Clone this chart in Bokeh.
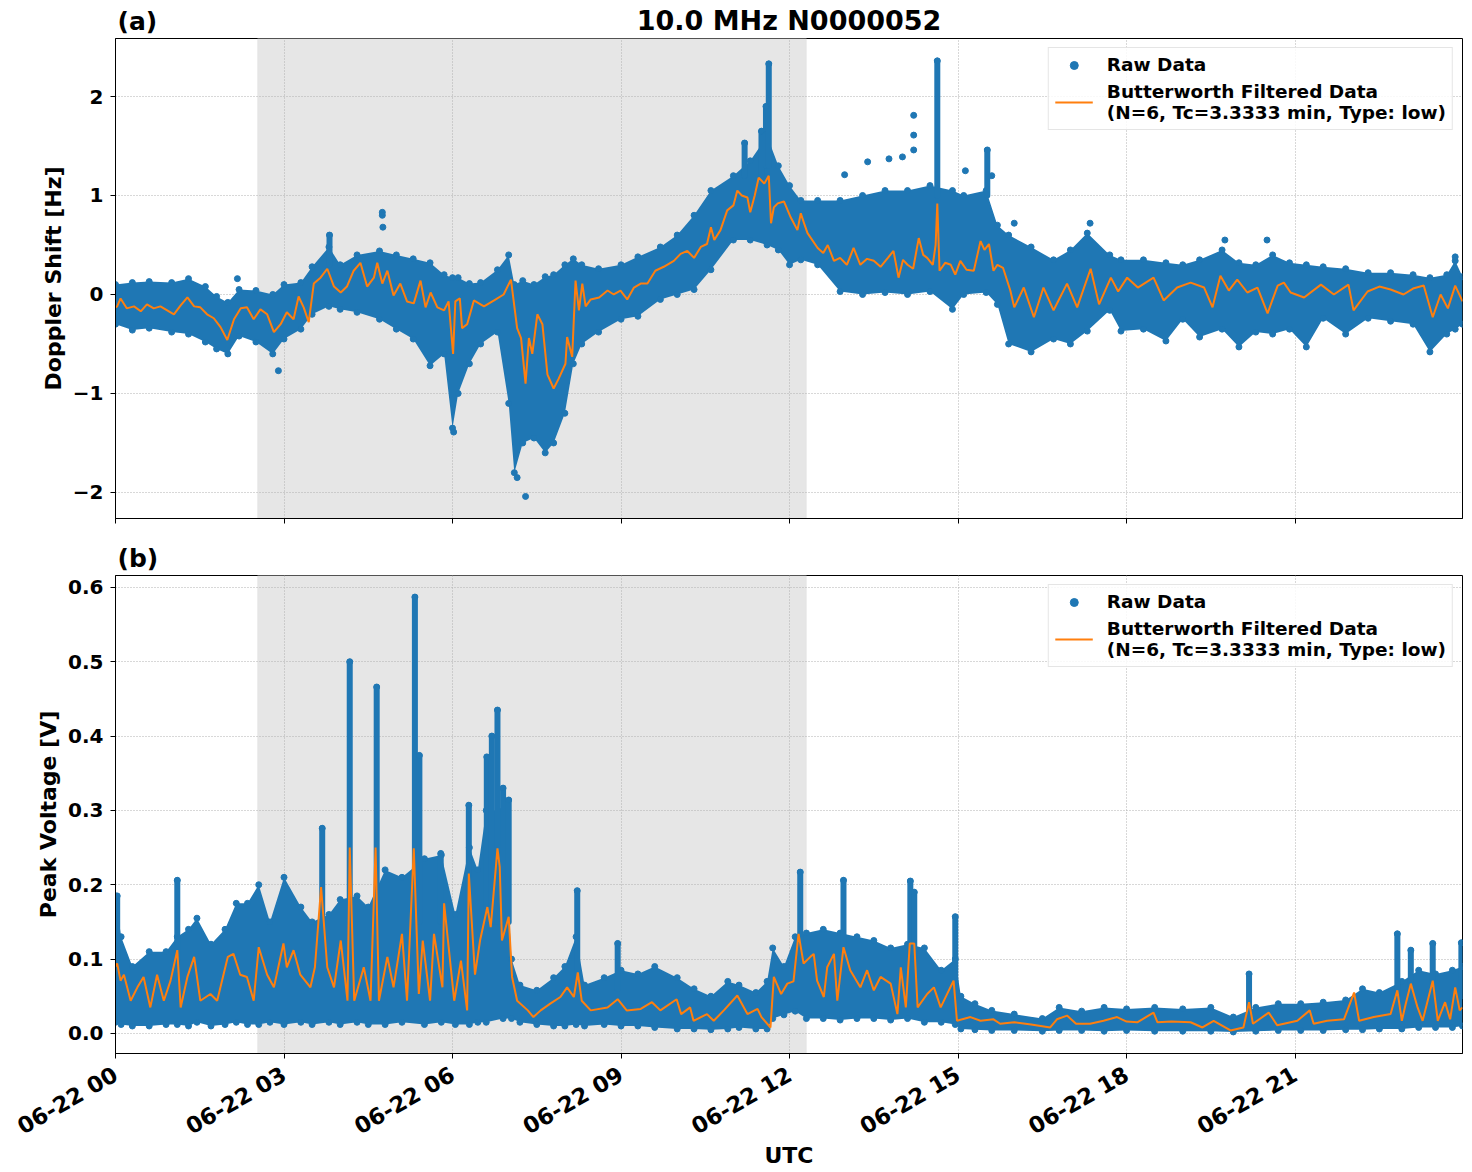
from bokeh.plotting import figure
from bokeh.layouts import column
from bokeh.models import Range1d, FixedTicker, BoxAnnotation, Legend, LegendItem
from bokeh.core.properties import value
from bokeh.embed import file_html
from bokeh.resources import INLINE

BLUE = "#1f77b4"
ORANGE = "#ff7f0e"
FONT = "DejaVu Sans"

# ---------------- data (time in hours since 06-22 00 UTC) ----------------
hour_ticks = [0, 3, 6, 9, 12, 15, 18, 21]
hour_labels = ["06-22 00", "06-22 03", "06-22 06", "06-22 09",
               "06-22 12", "06-22 15", "06-22 18", "06-22 21"]

doppler_ticks = [-2, -1, 0, 1, 2]
doppler_tick_labels = ["\u22122", "\u22121", "0", "1", "2"]
voltage_ticks = [0.0, 0.1, 0.2, 0.3, 0.4, 0.5, 0.6]
voltage_tick_labels = ["0.0", "0.1", "0.2", "0.3", "0.4", "0.5", "0.6"]

shade_start, shade_end = 2.53, 12.30

# Doppler shift: Butterworth filtered trace (hour, Hz)
doppler_filtered = [
    (0.0, -0.13), (0.03, -0.12), (0.09, -0.04), (0.2, -0.14), (0.33, -0.12), (0.45, -0.17),
    (0.56, -0.10), (0.68, -0.14), (0.8, -0.12), (0.92, -0.16), (1.04, -0.20), (1.16, -0.11),
    (1.28, -0.03), (1.4, -0.12), (1.51, -0.13), (1.63, -0.20), (1.75, -0.24), (1.87, -0.33),
    (1.99, -0.46), (2.11, -0.25), (2.23, -0.14), (2.34, -0.13), (2.46, -0.25), (2.58, -0.15),
    (2.7, -0.20), (2.82, -0.38), (2.94, -0.30), (3.05, -0.18), (3.17, -0.25), (3.26, -0.02),
    (3.35, -0.13), (3.44, -0.28), (3.53, 0.11), (3.65, 0.17), (3.77, 0.26), (3.89, 0.08),
    (4.01, 0.02), (4.12, 0.08), (4.24, 0.24), (4.36, 0.32), (4.48, 0.08), (4.6, 0.17),
    (4.66, 0.32), (4.75, 0.11), (4.84, 0.24), (4.95, -0.01), (5.07, 0.11), (5.19, -0.07),
    (5.31, -0.09), (5.43, 0.14), (5.52, -0.13), (5.61, 0.02), (5.73, -0.13), (5.85, -0.16),
    (5.93, -0.07), (6.01, -0.60), (6.05, -0.07), (6.13, -0.04), (6.17, -0.34), (6.26, -0.30),
    (6.38, -0.06), (6.56, -0.12), (6.74, -0.06), (6.91, 0.0), (7.04, 0.15), (7.15, -0.34),
    (7.22, -0.44), (7.3, -0.90), (7.36, -0.44), (7.42, -0.60), (7.51, -0.20), (7.6, -0.30),
    (7.69, -0.81), (7.8, -0.95), (7.89, -0.85), (8.01, -0.70), (8.04, -0.43), (8.13, -0.63),
    (8.19, 0.14), (8.25, -0.16), (8.31, 0.11), (8.37, -0.12), (8.46, -0.05), (8.61, -0.03),
    (8.76, 0.04), (8.87, 0.0), (8.99, 0.04), (9.11, -0.05), (9.23, 0.07), (9.35, 0.11),
    (9.47, 0.11), (9.61, 0.24), (9.76, 0.28), (9.94, 0.34), (10.06, 0.41), (10.18, 0.44),
    (10.3, 0.37), (10.42, 0.48), (10.53, 0.51), (10.6, 0.68), (10.66, 0.55), (10.77, 0.65),
    (10.89, 0.85), (11.0, 0.90), (11.07, 1.05), (11.15, 1.00), (11.25, 0.98), (11.3, 0.83),
    (11.38, 1.00), (11.45, 1.18), (11.55, 1.12), (11.63, 1.20), (11.67, 0.72), (11.72, 0.88),
    (11.79, 0.92), (11.9, 0.94), (12.02, 0.78), (12.14, 0.65), (12.2, 0.82), (12.27, 0.70),
    (12.32, 0.62), (12.5, 0.47), (12.6, 0.42), (12.68, 0.50), (12.79, 0.34), (12.9, 0.37),
    (13.02, 0.30), (13.14, 0.47), (13.26, 0.30), (13.38, 0.36), (13.5, 0.34), (13.62, 0.28),
    (13.75, 0.37), (13.85, 0.44), (13.94, 0.17), (14.02, 0.35), (14.1, 0.30), (14.2, 0.26),
    (14.3, 0.57), (14.38, 0.40), (14.45, 0.37), (14.55, 0.30), (14.6, 0.50), (14.63, 0.92),
    (14.67, 0.24), (14.77, 0.32), (14.87, 0.30), (14.95, 0.20), (15.04, 0.34), (15.15, 0.25),
    (15.28, 0.24), (15.4, 0.54), (15.47, 0.45), (15.55, 0.51), (15.63, 0.24), (15.7, 0.30),
    (15.8, 0.27), (15.93, 0.04), (16.0, -0.13), (16.17, 0.07), (16.35, -0.23), (16.52, 0.07),
    (16.7, -0.16), (16.94, 0.11), (17.12, -0.13), (17.36, 0.26), (17.51, -0.10), (17.72, 0.17),
    (17.85, 0.03), (18.01, 0.17), (18.2, 0.07), (18.48, 0.17), (18.66, -0.06), (18.9, 0.07),
    (19.14, 0.12), (19.38, 0.07), (19.53, -0.13), (19.67, 0.19), (19.82, 0.04), (19.97, 0.15),
    (20.15, 0.02), (20.33, 0.07), (20.51, -0.19), (20.69, 0.09), (20.8, 0.12), (20.92, 0.02),
    (21.16, -0.03), (21.46, 0.10), (21.69, 0.0), (21.95, 0.10), (22.04, -0.16), (22.29, 0.03),
    (22.5, 0.08), (22.7, 0.05), (22.93, 0.0), (23.1, 0.06), (23.29, 0.09), (23.45, -0.23),
    (23.59, 0.0), (23.72, -0.14), (23.85, 0.09), (23.98, -0.07),
]

# Doppler shift: spread of the raw samples (hour, lowest Hz, highest Hz)
doppler_spread = [
    (0.0, -0.30, 0.10), (0.3, -0.36, 0.12), (0.6, -0.34, 0.13), (1.0, -0.38, 0.12),
    (1.3, -0.40, 0.16), (1.6, -0.48, 0.08), (1.8, -0.55, -0.02), (2.0, -0.60, -0.08),
    (2.2, -0.42, 0.05), (2.5, -0.48, 0.04), (2.8, -0.60, 0.0), (3.0, -0.45, 0.10),
    (3.3, -0.35, 0.12), (3.5, -0.20, 0.28), (3.8, -0.12, 0.48), (4.0, -0.15, 0.30),
    (4.3, -0.18, 0.40), (4.7, -0.25, 0.44), (5.0, -0.35, 0.40), (5.3, -0.45, 0.36),
    (5.6, -0.72, 0.32), (5.85, -0.60, 0.20), (6.0, -1.35, 0.17), (6.1, -1.00, 0.17),
    (6.3, -0.70, 0.11), (6.5, -0.50, 0.12), (6.8, -0.38, 0.25), (7.0, -1.10, 0.40),
    (7.1, -1.80, 0.10), (7.25, -1.50, 0.14), (7.45, -1.45, 0.10), (7.65, -1.60, 0.18),
    (7.8, -1.50, 0.20), (8.0, -1.20, 0.30), (8.15, -0.70, 0.36), (8.3, -0.50, 0.30),
    (8.6, -0.38, 0.26), (9.0, -0.25, 0.30), (9.3, -0.22, 0.38), (9.7, -0.05, 0.48),
    (10.0, 0.0, 0.60), (10.3, 0.05, 0.80), (10.6, 0.25, 1.05), (11.0, 0.55, 1.20),
    (11.3, 0.55, 1.35), (11.6, 0.50, 1.60), (11.8, 0.45, 1.30), (12.0, 0.30, 1.10),
    (12.2, 0.35, 0.95), (12.5, 0.30, 0.95), (12.9, 0.03, 0.95), (13.3, 0.0, 1.00),
    (13.7, 0.02, 1.05), (14.1, 0.0, 1.05), (14.5, 0.03, 1.10), (14.9, -0.15, 1.05),
    (15.1, 0.0, 1.00), (15.5, 0.02, 1.05), (15.7, -0.10, 0.70), (15.9, -0.50, 0.60),
    (16.3, -0.58, 0.48), (16.7, -0.45, 0.35), (17.0, -0.50, 0.45), (17.3, -0.37, 0.62),
    (17.7, -0.16, 0.40), (17.9, -0.37, 0.35), (18.3, -0.35, 0.35), (18.7, -0.47, 0.32),
    (19.0, -0.25, 0.30), (19.3, -0.43, 0.35), (19.7, -0.35, 0.45), (20.0, -0.53, 0.32),
    (20.3, -0.38, 0.30), (20.6, -0.40, 0.40), (20.9, -0.35, 0.32), (21.2, -0.53, 0.30),
    (21.5, -0.24, 0.28), (21.9, -0.40, 0.26), (22.3, -0.24, 0.22), (22.7, -0.27, 0.22),
    (23.1, -0.30, 0.20), (23.4, -0.58, 0.17), (23.7, -0.40, 0.20), (23.85, -0.35, 0.34),
    (23.98, -0.30, 0.18),
]

# Doppler shift: narrow bursts of raw samples (hour, lowest Hz, highest Hz)
doppler_bursts = [
    (3.81, 0.30, 0.60), (11.2, 1.20, 1.53), (11.5, 1.20, 1.65), (11.58, 1.30, 1.90),
    (11.63, 1.30, 2.33), (14.63, 1.00, 2.36), (15.52, 1.00, 1.46),
]

# Doppler shift: isolated raw samples (hour, Hz)
doppler_outliers = [
    (2.17, 0.16), (4.75, 0.83), (4.75, 0.80), (4.76, 0.68), (12.98, 1.21), (13.39, 1.34),
    (13.77, 1.37), (14.01, 1.39), (14.21, 1.81), (14.21, 1.61), (14.21, 1.46), (15.13, 1.25),
    (15.6, 1.20), (16.0, 0.72), (17.35, 0.72), (19.75, 0.55), (20.5, 0.55), (7.30, -2.04),
    (7.15, -1.85), (6.02, -1.39), (2.9, -0.77), (23.85, 0.38),
]

# Peak voltage: Butterworth filtered trace (hour, V)
voltage_filtered = [
    (0.0, 0.090), (0.03, 0.094), (0.09, 0.071), (0.15, 0.079), (0.27, 0.044), (0.39, 0.062),
    (0.5, 0.076), (0.62, 0.035), (0.74, 0.079), (0.86, 0.044), (0.98, 0.071), (1.1, 0.112),
    (1.16, 0.035), (1.28, 0.076), (1.4, 0.103), (1.51, 0.044), (1.69, 0.053), (1.81, 0.044),
    (2.0, 0.103), (2.1, 0.107), (2.22, 0.079), (2.34, 0.076), (2.46, 0.044), (2.55, 0.116),
    (2.7, 0.079), (2.82, 0.062), (2.99, 0.121), (3.05, 0.089), (3.17, 0.112), (3.29, 0.079),
    (3.47, 0.062), (3.55, 0.089), (3.66, 0.197), (3.77, 0.089), (3.89, 0.062), (4.01, 0.125),
    (4.13, 0.044), (4.17, 0.250), (4.25, 0.044), (4.42, 0.089), (4.54, 0.044), (4.63, 0.250),
    (4.69, 0.044), (4.84, 0.103), (4.95, 0.062), (5.1, 0.134), (5.19, 0.044), (5.31, 0.249),
    (5.4, 0.053), (5.47, 0.125), (5.6, 0.044), (5.67, 0.134), (5.82, 0.062), (5.85, 0.175),
    (6.03, 0.044), (6.15, 0.098), (6.26, 0.031), (6.29, 0.215), (6.4, 0.079), (6.49, 0.125),
    (6.62, 0.170), (6.68, 0.143), (6.8, 0.249), (6.84, 0.224), (6.88, 0.125), (7.0, 0.157),
    (7.06, 0.076), (7.15, 0.044), (7.34, 0.031), (7.44, 0.022), (7.57, 0.031), (7.74, 0.040),
    (7.92, 0.049), (8.04, 0.062), (8.16, 0.049), (8.23, 0.082), (8.3, 0.044), (8.46, 0.031),
    (8.76, 0.035), (8.94, 0.046), (9.1, 0.031), (9.35, 0.033), (9.55, 0.042), (9.7, 0.031),
    (9.99, 0.046), (10.07, 0.026), (10.23, 0.035), (10.29, 0.017), (10.53, 0.026), (10.65, 0.017),
    (10.83, 0.031), (11.07, 0.051), (11.25, 0.026), (11.43, 0.033), (11.5, 0.022), (11.66, 0.008),
    (11.72, 0.076), (11.85, 0.053), (11.96, 0.067), (12.07, 0.070), (12.16, 0.134), (12.25, 0.094),
    (12.37, 0.103), (12.43, 0.107), (12.49, 0.071), (12.61, 0.049), (12.67, 0.089), (12.79, 0.107),
    (12.85, 0.044), (12.96, 0.116), (13.08, 0.085), (13.26, 0.062), (13.38, 0.085), (13.5, 0.058),
    (13.62, 0.076), (13.8, 0.067), (13.92, 0.026), (13.98, 0.089), (14.07, 0.035), (14.14, 0.121),
    (14.22, 0.121), (14.28, 0.035), (14.45, 0.053), (14.57, 0.062), (14.69, 0.035), (14.92, 0.071),
    (14.98, 0.017), (15.22, 0.022), (15.4, 0.017), (15.63, 0.019), (15.75, 0.013), (16.0, 0.015),
    (16.3, 0.012), (16.64, 0.008), (16.76, 0.019), (16.94, 0.024), (17.1, 0.013), (17.35, 0.013),
    (17.59, 0.017), (17.83, 0.022), (18.0, 0.016), (18.19, 0.015), (18.48, 0.028), (18.55, 0.015),
    (18.8, 0.016), (19.14, 0.015), (19.35, 0.008), (19.55, 0.017), (19.85, 0.004), (20.08, 0.008),
    (20.18, 0.042), (20.25, 0.013), (20.53, 0.028), (20.68, 0.011), (21.04, 0.017), (21.26, 0.031),
    (21.33, 0.013), (21.57, 0.017), (21.87, 0.019), (22.05, 0.055), (22.14, 0.017), (22.4, 0.022),
    (22.7, 0.026), (22.82, 0.058), (22.9, 0.017), (22.97, 0.040), (23.06, 0.067), (23.18, 0.035),
    (23.27, 0.017), (23.45, 0.071), (23.54, 0.017), (23.67, 0.042), (23.76, 0.019), (23.85, 0.062),
    (23.93, 0.031), (23.98, 0.035),
]

# Peak voltage: spread of the raw samples (hour, lowest V, highest V)
voltage_spread = [
    (0.0, 0.015, 0.185), (0.1, 0.012, 0.130), (0.3, 0.010, 0.090), (0.6, 0.010, 0.110),
    (0.9, 0.012, 0.110), (1.1, 0.012, 0.130), (1.3, 0.010, 0.140), (1.45, 0.015, 0.155),
    (1.7, 0.010, 0.120), (1.95, 0.012, 0.140), (2.15, 0.015, 0.175), (2.35, 0.012, 0.175),
    (2.55, 0.012, 0.200), (2.75, 0.015, 0.150), (3.0, 0.012, 0.210), (3.3, 0.015, 0.170),
    (3.5, 0.012, 0.150), (3.8, 0.015, 0.160), (4.0, 0.012, 0.180), (4.3, 0.015, 0.185),
    (4.5, 0.012, 0.170), (4.8, 0.012, 0.220), (5.1, 0.015, 0.210), (5.5, 0.012, 0.235),
    (5.8, 0.015, 0.240), (6.05, 0.012, 0.160), (6.3, 0.012, 0.250), (6.45, 0.015, 0.220),
    (6.6, 0.015, 0.300), (6.9, 0.020, 0.300), (7.05, 0.020, 0.100), (7.2, 0.015, 0.065),
    (7.5, 0.012, 0.058), (7.8, 0.010, 0.075), (8.0, 0.010, 0.090), (8.2, 0.012, 0.130),
    (8.35, 0.010, 0.065), (8.7, 0.012, 0.075), (9.0, 0.010, 0.085), (9.3, 0.010, 0.080),
    (9.6, 0.008, 0.090), (10.0, 0.006, 0.075), (10.3, 0.006, 0.060), (10.6, 0.005, 0.050),
    (10.9, 0.006, 0.070), (11.1, 0.008, 0.065), (11.4, 0.006, 0.055), (11.6, 0.006, 0.070),
    (11.7, 0.020, 0.115), (11.9, 0.025, 0.090), (12.1, 0.030, 0.130), (12.3, 0.020, 0.135),
    (12.6, 0.020, 0.140), (12.9, 0.018, 0.135), (13.2, 0.020, 0.130), (13.5, 0.020, 0.125),
    (13.8, 0.018, 0.115), (14.1, 0.020, 0.120), (14.4, 0.015, 0.115), (14.7, 0.015, 0.085),
    (14.95, 0.012, 0.100), (15.05, 0.006, 0.050), (15.3, 0.005, 0.040), (15.6, 0.004, 0.031),
    (16.0, 0.004, 0.026), (16.5, 0.003, 0.020), (16.8, 0.004, 0.035), (17.2, 0.004, 0.030),
    (17.6, 0.003, 0.035), (18.0, 0.004, 0.033), (18.5, 0.003, 0.035), (19.0, 0.003, 0.033),
    (19.5, 0.003, 0.035), (19.9, 0.002, 0.022), (20.3, 0.003, 0.035), (20.7, 0.004, 0.040),
    (21.1, 0.004, 0.040), (21.5, 0.004, 0.042), (21.9, 0.005, 0.045), (22.2, 0.005, 0.060),
    (22.5, 0.006, 0.055), (22.9, 0.006, 0.070), (23.2, 0.008, 0.085), (23.5, 0.008, 0.080),
    (23.8, 0.008, 0.085), (23.98, 0.010, 0.090),
]

# Peak voltage: narrow bursts of raw samples (hour, lowest V, highest V)
voltage_bursts = [
    (0.03, 0.10, 0.185), (1.1, 0.10, 0.206), (3.68, 0.15, 0.276), (4.17, 0.15, 0.500),
    (4.65, 0.15, 0.466), (5.33, 0.15, 0.587), (5.41, 0.15, 0.374), (5.79, 0.15, 0.242),
    (6.29, 0.15, 0.307), (6.61, 0.15, 0.372), (6.7, 0.15, 0.400), (6.8, 0.15, 0.435),
    (6.9, 0.15, 0.330), (7.0, 0.15, 0.314), (8.22, 0.07, 0.192), (8.94, 0.06, 0.121),
    (12.19, 0.10, 0.217), (12.96, 0.10, 0.206), (14.15, 0.10, 0.205), (14.22, 0.10, 0.190),
    (14.95, 0.05, 0.157), (20.18, 0.02, 0.080), (22.82, 0.05, 0.134), (23.06, 0.05, 0.112),
    (23.45, 0.05, 0.121), (23.96, 0.05, 0.122),
]

X_START, X_END = 0.0, 23.98
x_range = Range1d(X_START, X_END)


def split(rows):
    return [list(c) for c in zip(*rows)]


def make_header(height, tag, title=None):
    """Thin strip above a panel carrying the panel tag and the figure title."""
    h = figure(width=1472, height=height, output_backend="svg", toolbar_location=None,
               x_range=x_range, y_range=Range1d(0, height),
               x_axis_type=None, y_axis_type=None,
               min_border_left=115, min_border_right=10, min_border_top=0, min_border_bottom=0)
    h.outline_line_color = None
    h.background_fill_color = "white"
    h.border_fill_color = "white"
    h.text(x=[X_START], y=[3], text=[tag], text_font=value(FONT), text_font_style="bold",
           text_font_size="25px", text_color="black", text_align="left",
           text_baseline="bottom", x_offset=2)
    if title:
        h.text(x=[(X_START + X_END) / 2], y=[3], text=[title], text_font=value(FONT),
               text_font_style="bold", text_font_size="27px", text_color="black",
               text_align="center", text_baseline="bottom")
    return h


def make_panel(height, border_bottom, y_range, y_ticks, y_tick_labels,
               y_label, filtered, spread, bursts, outliers, show_dates):
    p = figure(width=1472, height=height, output_backend="svg", toolbar_location=None,
               x_range=x_range, y_range=Range1d(*y_range),
               min_border_left=115, min_border_right=10,
               min_border_top=0, min_border_bottom=border_bottom)
    p.background_fill_color = "white"
    p.border_fill_color = "white"
    p.outline_line_color = "black"
    p.outline_line_width = 1

    # night-time shading below the grid
    shade = BoxAnnotation(left=shade_start, right=shade_end, fill_color="#e6e6e6",
                          fill_alpha=1.0, line_color="#dadada", line_width=1, level="image")
    p.add_layout(shade)

    for g in (p.xgrid[0], p.ygrid[0]):
        g.grid_line_color = "#b0b0b0"
        g.grid_line_dash = "1 2"
        g.grid_line_width = 1
    p.xgrid[0].ticker = FixedTicker(ticks=hour_ticks)
    p.ygrid[0].ticker = FixedTicker(ticks=y_ticks)

    # raw samples: dense spread, bursts and isolated points
    st, slo, shi = split(spread)
    p.varea(x=st, y1=slo, y2=shi, fill_color=BLUE)
    dots = p.scatter(x=st + st, y=slo + shi, size=6, color=BLUE)
    bt, blo, bhi = split(bursts)
    p.segment(x0=bt, y0=blo, x1=bt, y1=bhi, line_width=6, line_color=BLUE, line_cap="round")
    p.scatter(x=bt, y=bhi, size=6, color=BLUE)
    if outliers:
        ot, ov = split(outliers)
        p.scatter(x=ot, y=ov, size=6, color=BLUE)

    ft, fv = split(filtered)
    line = p.line(x=ft, y=fv, line_color=ORANGE, line_width=2)

    # axes
    xa = p.xaxis[0]
    ya = p.yaxis[0]
    for ax in (xa, ya):
        ax.axis_line_color = "black"
        ax.major_tick_line_color = "black"
        ax.major_tick_out = 5
        ax.major_tick_in = 0
        ax.minor_tick_out = 0
        ax.minor_tick_in = 0
        ax.major_label_text_font = FONT
        ax.major_label_text_font_style = "bold"
        ax.major_label_text_font_size = "20px"
        ax.major_label_text_color = "black"
        ax.major_label_standoff = 7
        ax.axis_label_text_font = FONT
        ax.axis_label_text_font_style = "bold"
        ax.axis_label_text_font_size = "22px"
        ax.axis_label_text_color = "black"
    xa.ticker = FixedTicker(ticks=hour_ticks)
    ya.ticker = FixedTicker(ticks=y_ticks)
    ya.major_label_overrides = {t: s for t, s in zip(y_ticks, y_tick_labels)}
    ya.axis_label = y_label
    ya.axis_label_standoff = 4
    if show_dates:
        xa.major_label_overrides = {t: s for t, s in zip(hour_ticks, hour_labels)}
        xa.major_label_orientation = 0.5236
        xa.major_label_text_font_size = "22.5px"
        xa.major_label_standoff = 14
        xa.axis_label = "UTC"
        xa.axis_label_standoff = -11
    else:
        xa.major_label_overrides = {t: "" for t in hour_ticks}
        xa.major_label_text_font_size = "1px"
        xa.major_label_standoff = 0

    legend = Legend(items=[
        LegendItem(label="Raw Data", renderers=[dots]),
        LegendItem(label="Butterworth Filtered Data\n(N=6, Tc=3.3333 min, Type: low)",
                   renderers=[line]),
    ], location="top_right")
    legend.label_text_font = FONT
    legend.label_text_font_style = "bold"
    legend.label_text_font_size = "18.5px"
    legend.label_text_color = "black"
    legend.border_line_color = "#cccccc"
    legend.border_line_width = 1
    legend.background_fill_alpha = 0.85
    legend.glyph_width = 38
    legend.label_standoff = 14
    legend.padding = 6
    legend.spacing = 6
    legend.margin = 9
    p.add_layout(legend)
    return p


header_a = make_header(38, "(a)", title="10.0 MHz N0000052")
top = make_panel(504, 24, (-2.263, 2.586), doppler_ticks, doppler_tick_labels,
                 "Doppler Shift [Hz]", doppler_filtered, doppler_spread,
                 doppler_bursts, doppler_outliers, False)
header_b = make_header(33, "(b)")
bottom = make_panel(597, 119, (-0.027, 0.616), voltage_ticks, voltage_tick_labels,
                    "Peak Voltage [V]", voltage_filtered, voltage_spread,
                    voltage_bursts, [], True)

layout = column(header_a, top, header_b, bottom, spacing=0)
open("out.html", "w").write(file_html(layout, INLINE))
